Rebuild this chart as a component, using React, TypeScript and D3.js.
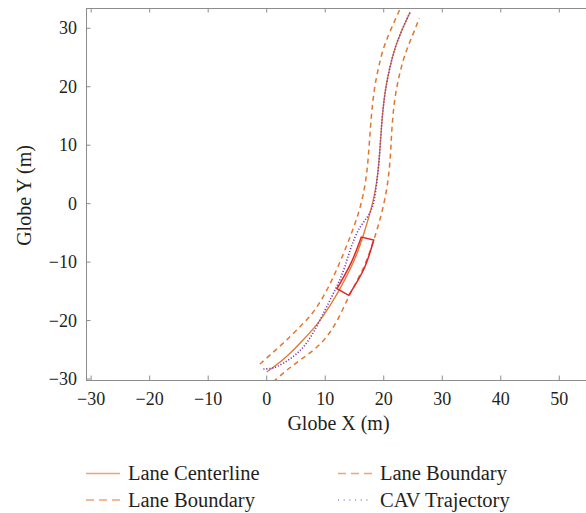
import React from "react";
import * as d3 from "d3";

// ---- data (metres) ----
const X_TICKS = [-30, -20, -10, 0, 10, 20, 30, 40, 50];
const Y_TICKS = [-30, -20, -10, 0, 10, 20, 30];

const centerline: [number, number][] = [
  [0, -28.8], [0.99, -28.12], [3.42, -26.24], [6.25, -23.33], [8.82, -20.47],
  [10.73, -17.63], [12.44, -14.77], [14.52, -10.79], [15.69, -7.93], [16.63, -5.07],
  [17.48, -2.23], [18.25, 0.62], [18.78, 3.53], [19.12, 6.32], [19.34, 9.18],
  [19.53, 12.04], [19.75, 14.88], [20.04, 17.73], [20.47, 20.64], [21.07, 23.43],
  [21.79, 26.29], [22.86, 29.2], [24.49, 32.74],
];

const leftBoundary: [number, number][] = [
  [-1.14, -27.43], [0.56, -25.89], [2.84, -23.89], [5.13, -21.62], [7.69, -19.05],
  [9.4, -16.45], [10.9, -13.63], [12.18, -10.79], [13.38, -7.93], [14.49, -5.07],
  [15.52, -2.23], [16.32, 0.62], [16.87, 3.53], [17.22, 6.32], [17.46, 9.18],
  [17.65, 12.04], [17.87, 14.88], [18.15, 17.73], [18.54, 20.64], [19.14, 23.43],
  [19.81, 26.29], [20.93, 29.2], [22.78, 33.3],
];

const rightBoundary: [number, number][] = [
  [1.13, -30.46], [3.42, -28.46], [5.69, -26.75], [8.54, -24.75], [10.82, -22.18],
  [12.44, -19.34], [13.98, -15.92], [15.35, -13.35], [16.68, -10.79], [17.74, -7.93],
  [18.68, -5.07], [19.5, -2.23], [20.18, 0.62], [20.68, 3.53], [21.0, 6.32],
  [21.21, 9.18], [21.33, 12.04], [21.55, 14.88], [21.84, 17.73], [22.35, 20.64],
  [23.0, 23.43], [23.86, 26.29], [25.09, 29.2], [26.08, 31.71],
];

const cavTrajectory: [number, number][] = [
  [-0.58, -28.29], [0.56, -28.26], [1.76, -27.95], [3.98, -26.66], [6.25, -24.75],
  [7.96, -22.18], [9.4, -19.34], [11.11, -15.92], [12.53, -13.06], [13.38, -10.79],
  [14.23, -7.93], [15.09, -5.65], [15.94, -3.94], [17.09, -2.51], [17.94, -1.09],
  [18.42, 0.62], [18.81, 3.53], [19.12, 6.32], [19.34, 9.18], [19.53, 12.04],
  [19.75, 14.88], [20.04, 17.73], [20.47, 20.64], [21.07, 23.43], [21.79, 26.29],
  [22.86, 29.2], [24.49, 32.74],
];

const vehicleLeftSide: [number, number][] = [[16.17, -5.71], [14.44, -10.1], [12.01, -14.55]];
const vehicleRightSide: [number, number][] = [[14.01, -15.68], [16.71, -10.96], [18.28, -6.22]];

const legendItems = [
  { label: "Lane Centerline", kind: "solid" },
  { label: "Lane Boundary", kind: "dash" },
  { label: "Lane Boundary", kind: "dash" },
  { label: "CAV Trajectory", kind: "dot" },
];

const ORANGE = "#E2762F";
const ORANGE_LIGHT = "#F2A472";
const PURPLE = "#7A3DB8";
const RED = "#E0262A";
const AXIS = "#8C8C8C";
const FONT = "'Liberation Serif', 'Times New Roman', serif";
const TXT = "#231F20";

const W = 586;
const H = 513;
const LEFT = 86;
const TOP = 8;
const BOTTOM = 380;

export default function App() {
  const x = d3.scaleLinear().domain([-30.88, 58]).range([LEFT, LEFT + 88.88 * 5.852]);
  const y = d3.scaleLinear().domain([-30.17, 33.47]).range([BOTTOM, TOP]);
  const line = d3
    .line<[number, number]>()
    .x((d) => x(d[0]))
    .y((d) => y(d[1]))
    .curve(d3.curveBasis);
  const sideLine = d3
    .line<[number, number]>()
    .x((d) => x(d[0]))
    .y((d) => y(d[1]))
    .curve(d3.curveCatmullRom.alpha(0.5));

  const leftPath = sideLine(vehicleLeftSide) || "";
  const rightPath = (sideLine(vehicleRightSide) || "").replace(/^M/, "L");
  const vehiclePath = leftPath + rightPath + "Z";

  const fmt = (v: number) => (v < 0 ? "\u2212" + Math.abs(v) : String(v));
  const right = W + 30;
  const tickLen = 4.5;

  const legendPos = [
    { lx: 86, tx: 128, y: 473.5 },
    { lx: 338, tx: 380, y: 473.5 },
    { lx: 86, tx: 128, y: 500 },
    { lx: 338, tx: 380, y: 500 },
  ];

  return (
    <svg
      width={W}
      height={H}
      style={{ position: "absolute", left: 0, top: 0, background: "#fff" }}
      fontFamily={FONT}
    >
      <defs>
        <clipPath id="plotClip">
          <rect x={LEFT} y={TOP} width={right - LEFT} height={BOTTOM - TOP} />
        </clipPath>
      </defs>

      {/* axes frame */}
      <g stroke={AXIS} strokeWidth={1} fill="none">
        <line x1={LEFT} y1={TOP + 0.5} x2={right} y2={TOP + 0.5} />
        <line x1={LEFT} y1={BOTTOM + 0.5} x2={right} y2={BOTTOM + 0.5} />
        <line x1={LEFT + 0.5} y1={TOP} x2={LEFT + 0.5} y2={BOTTOM + 1} />
        {X_TICKS.map((t) => (
          <g key={"xt" + t}>
            <line x1={x(t)} x2={x(t)} y1={BOTTOM} y2={BOTTOM - tickLen} />
            <line x1={x(t)} x2={x(t)} y1={TOP} y2={TOP + tickLen} />
          </g>
        ))}
        {Y_TICKS.map((t) => (
          <line key={"yt" + t} x1={LEFT} x2={LEFT + tickLen} y1={y(t)} y2={y(t)} />
        ))}
      </g>

      {/* tick labels */}
      <g fill={TXT} fontSize={18}>
        {X_TICKS.map((t) => (
          <text key={"xl" + t} x={x(t)} y={405} textAnchor="middle">
            {fmt(t)}
          </text>
        ))}
        {Y_TICKS.map((t) => (
          <text key={"yl" + t} x={77} y={y(t)} dy="0.34em" textAnchor="end">
            {fmt(t)}
          </text>
        ))}
      </g>

      {/* axis titles */}
      <g fill={TXT} fontSize={20}>
        <text x={338.5} y={430} textAnchor="middle">
          Globe X (m)
        </text>
        <text transform="translate(31,195.5) rotate(-90)" textAnchor="middle">
          Globe Y (m)
        </text>
      </g>

      {/* data */}
      <g clipPath="url(#plotClip)" fill="none">
        <path d={line(leftBoundary) || ""} stroke={ORANGE} strokeWidth={1.5} strokeDasharray="5,4" />
        <path d={line(rightBoundary) || ""} stroke={ORANGE} strokeWidth={1.5} strokeDasharray="5,4" />
        <path d={line(centerline) || ""} stroke={ORANGE} strokeWidth={1.3} />
        <path
          d={line(cavTrajectory) || ""}
          stroke={PURPLE}
          strokeWidth={1.6}
          strokeDasharray="1.2,1.8"
        />
        <path d={vehiclePath} stroke={RED} strokeWidth={1.5} strokeLinejoin="miter" />
      </g>

      {/* legend */}
      <g>
        {legendItems.map((it, i) => {
          const p = legendPos[i];
          return (
            <g key={"lg" + i}>
              <line
                x1={p.lx}
                x2={p.lx + 34}
                y1={p.y}
                y2={p.y}
                stroke={it.kind === "dot" ? PURPLE : ORANGE_LIGHT}
                strokeWidth={it.kind === "dot" ? 1 : 1.3}
                strokeDasharray={it.kind === "dash" ? "8,5" : it.kind === "dot" ? "1,4.7" : undefined}
              />
              <text x={p.tx} y={p.y} dy="0.33em" fill={TXT} fontSize={20.5}>
                {it.label}
              </text>
            </g>
          );
        })}
      </g>
    </svg>
  );
}
